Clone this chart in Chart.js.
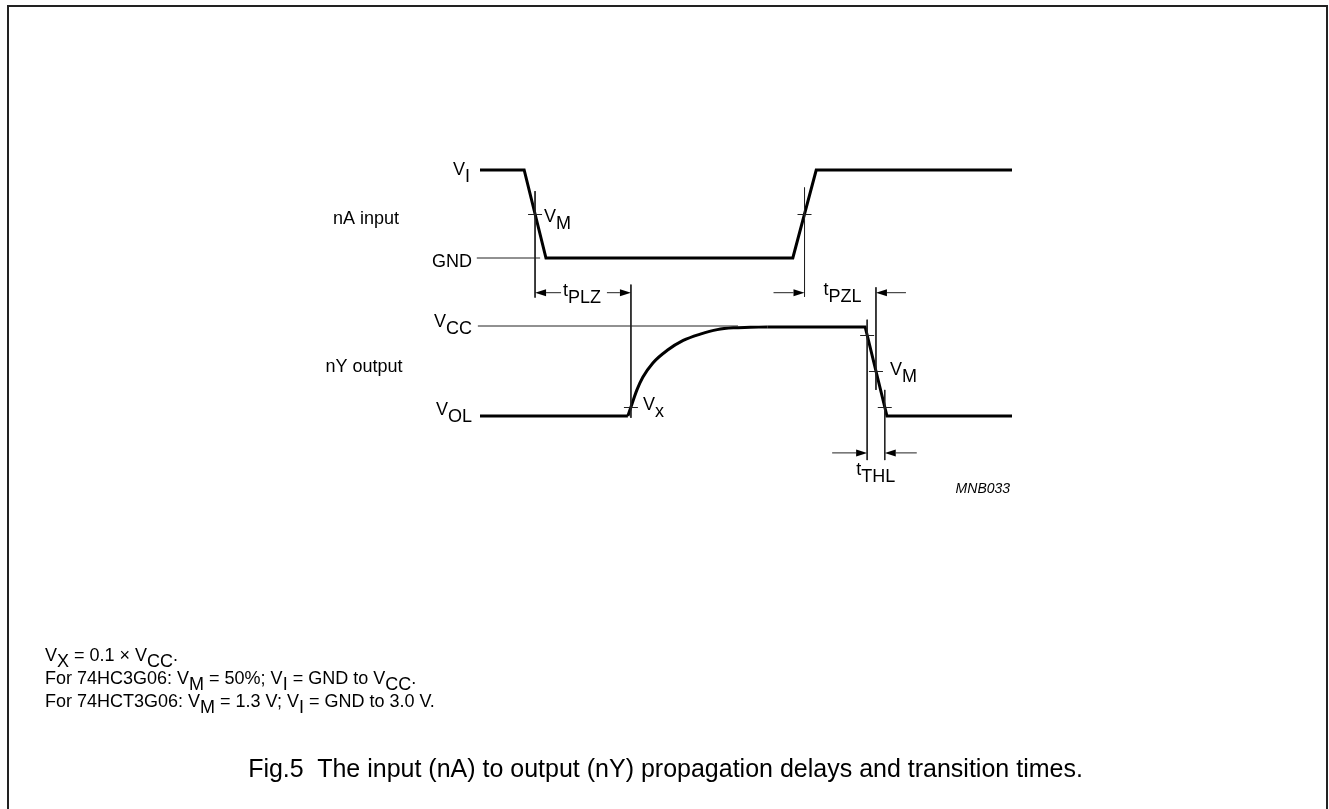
<!DOCTYPE html>
<html>
<head>
<meta charset="utf-8">
<script src="https://cdn.jsdelivr.net/npm/chart.js@4.4.1/dist/chart.umd.min.js"></script>
<style>
  html, body { margin: 0; padding: 0; background: #fff; }
  body { width: 1329px; height: 809px; position: relative; overflow: hidden;
         font-family: "Liberation Sans", Arial, Helvetica, sans-serif; color: #000; }
  #frame { position: absolute; left: 7px; top: 5px; width: 1321px; height: 900px;
           border: 2px solid #222; border-bottom: none; box-sizing: border-box; }
  #c { position: absolute; left: 0; top: 0; }
  .note { position: absolute; left: 45px; font-size: 18px; line-height: 18px; white-space: nowrap; }
  .note sub { font-size: 100%; vertical-align: -6px; line-height: 0; }
  .caption { position: absolute; left: 0; width: 1331px; top: 756px; text-align: center;
             font-size: 25px; line-height: 25px; white-space: pre; }
</style>
</head>
<body>
<div id="frame"></div>
<canvas id="c" width="1329" height="809"></canvas>
<div class="note" style="top:646px">V<sub>X</sub> = 0.1 × V<sub>CC</sub>.</div>
<div class="note" style="top:669px">For 74HC3G06: V<sub>M</sub> = 50%; V<sub>I</sub> = GND to V<sub>CC</sub>.</div>
<div class="note" style="top:692px">For 74HCT3G06: V<sub>M</sub> = 1.3 V; V<sub>I</sub> = GND to 3.0 V.</div>
<div class="caption">Fig.5  The input (nA) to output (nY) propagation delays and transition times.</div>
<script>
// time in arbitrary units, levels normalised: 0 = low (GND / VOL), 1 = high (VI / VCC)
const inputT = [0, 8.3, 12.4, 58.8, 63.2, 100];
const inputV = [1, 1, 0, 0, 1, 1];

const outLowT = [0, 27.8];
const outLowV = [0, 0];

const outRiseT = [27.8, 28.6, 29.5, 30.6, 32.5, 35.2, 38.2, 41.4, 44.6, 47.6, 50.8, 54.0];
const outRiseV = [0, 0.14, 0.29, 0.43, 0.59, 0.73, 0.84, 0.91, 0.96, 0.98, 0.985, 0.99];

const outFallT = [54.0, 72.4, 76.5, 100];
const outFallV = [0.99, 0.99, 0, 0];

// reference levels drawn as thin lines
const gndRefT = [-0.6, 11.3];
const vccRefT = [-0.4, 48.5];

const FONT = '18px "Liberation Sans", Arial, sans-serif';
const SUB_DROP = 7;

function pts(ts, vs) {
  return ts.map((t, i) => ({ x: t, y: vs[i] }));
}

// time where a waveform crosses a level, searching from tFrom
function crossing(ts, vs, level, tFrom) {
  for (let i = 0; i < ts.length - 1; i++) {
    if (ts[i + 1] < tFrom) continue;
    const a = vs[i] - level;
    const b = vs[i + 1] - level;
    if (a === 0) return ts[i];
    if (a * b < 0) return ts[i] + (ts[i + 1] - ts[i]) * a / (a - b);
  }
  return null;
}

const tInFall = crossing(inputT, inputV, 0.5, 0);
const tInRise = crossing(inputT, inputV, 0.5, 30);
const tVx = crossing(outRiseT, outRiseV, 0.1, 0);
const tOut90 = crossing(outFallT, outFallV, 0.9, 0);
const tOut50 = crossing(outFallT, outFallV, 0.5, 0);
const tOut10 = crossing(outFallT, outFallV, 0.1, 0);

function wave(data, yAxisID, extra) {
  return Object.assign({
    data, yAxisID, showLine: true, borderColor: '#000', borderWidth: 3,
    pointRadius: 0, borderJoinStyle: 'miter', borderCapStyle: 'butt', tension: 0
  }, extra || {});
}

function thin(data, yAxisID) {
  return {
    data, yAxisID, showLine: true, borderColor: '#222', borderWidth: 1,
    pointRadius: 0, borderCapStyle: 'butt', tension: 0
  };
}

function vline(t, a, b, yAxisID) {
  return thin([{ x: t, y: a }, { x: t, y: b }], yAxisID);
}

function drawLabel(ctx, main, sub, x, y, align) {
  ctx.font = FONT;
  ctx.textAlign = 'left';
  ctx.textBaseline = 'alphabetic';
  const wMain = ctx.measureText(main).width;
  const wSub = sub ? ctx.measureText(sub).width : 0;
  let left = x;
  if (align === 'right') left = x - wMain - wSub;
  if (align === 'center') left = x - (wMain + wSub) / 2;
  ctx.fillText(main, left, y);
  if (sub) ctx.fillText(sub, left + wMain, y + SUB_DROP);
}

function arrow(ctx, tailX, tipX, y) {
  const dir = Math.sign(tipX - tailX);
  const head = 11;
  ctx.beginPath();
  ctx.moveTo(tailX, y);
  ctx.lineTo(tipX - dir * head, y);
  ctx.stroke();
  ctx.beginPath();
  ctx.moveTo(tipX, y);
  ctx.lineTo(tipX - dir * head, y - 3.5);
  ctx.lineTo(tipX - dir * head, y + 3.5);
  ctx.closePath();
  ctx.fill();
}

const timingMarks = {
  id: 'timingMarks',
  afterDatasetsDraw(chart) {
    const { ctx, scales } = chart;
    const px = v => scales.x.getPixelForValue(v);
    const yi = v => scales.yIn.getPixelForValue(v);
    const yo = v => scales.yOut.getPixelForValue(v);
    ctx.save();
    ctx.strokeStyle = '#222';
    ctx.fillStyle = '#000';
    ctx.lineWidth = 1;

    // small crossing ticks
    const ticks = [
      [px(tInFall), yi(0.5)], [px(tInRise), yi(0.5)], [px(tVx), yo(0.1)],
      [px(tOut90), yo(0.9)], [px(tOut50), yo(0.5)], [px(tOut10), yo(0.1)]
    ];
    ticks.forEach(([x, y]) => {
      ctx.beginPath();
      ctx.moveTo(x - 7, Math.round(y) + 0.5);
      ctx.lineTo(x + 7, Math.round(y) + 0.5);
      ctx.stroke();
    });

    // arrows
    const yA = yo(1.37);
    arrow(ctx, px(tInFall) + 26, px(tInFall), yA);
    arrow(ctx, px(tVx) - 24, px(tVx), yA);
    arrow(ctx, px(tInRise) - 31, px(tInRise), yA);
    arrow(ctx, px(tOut50) + 30, px(tOut50), yA);
    const yT = yo(-0.41);
    arrow(ctx, px(tOut90) - 35, px(tOut90), yT);
    arrow(ctx, px(tOut10) + 32, px(tOut10), yT);

    // level labels
    const x0 = px(0);
    drawLabel(ctx, 'V', 'I', x0 - 10, yi(1) + 5, 'right');
    drawLabel(ctx, 'GND', '', x0 - 8, yi(0) + 9, 'right');
    drawLabel(ctx, 'V', 'CC', x0 - 8, yo(1) + 1, 'right');
    drawLabel(ctx, 'V', 'OL', x0 - 8, yo(0) - 1, 'right');
    drawLabel(ctx, 'nA input', '', x0 - 114, yi(0.5) + 10, 'center');
    drawLabel(ctx, 'nY output', '', x0 - 116, yo(0.5) + 1, 'center');

    // edge labels
    drawLabel(ctx, 'V', 'M', px(tInFall) + 9, yi(0.5) + 8, 'left');
    drawLabel(ctx, 'V', 'x', px(tVx) + 12, yo(0) - 6, 'left');
    drawLabel(ctx, 'V', 'M', px(tOut50) + 14, yo(0.5) + 4, 'left');
    drawLabel(ctx, 't', 'PLZ', px(tInFall) + 28, yA + 3, 'left');
    drawLabel(ctx, 't', 'PZL', px(tInRise) + 19, yA + 2, 'left');
    drawLabel(ctx, 't', 'THL', px(tOut90) - 11, yT + 22, 'left');

    ctx.font = 'italic 14px "Liberation Sans", Arial, sans-serif';
    ctx.fillText('MNB033', px(89.4), yo(-0.86));
    ctx.restore();
  }
};

// scale ranges chosen so the axes span the whole canvas (axes hidden)
const T_PX = 5.32, T0_PX = 480;
const IN_PX = 88, IN0_PX = 258;
const OUT_PX = 90, OUT0_PX = 416;
const W = 1329, H = 809;

new Chart(document.getElementById('c'), {
  type: 'scatter',
  data: {
    datasets: [
      thin(pts(gndRefT, [0, 0]), 'yIn'),
      thin(pts(vccRefT, [1, 1]), 'yOut'),
      vline(tInFall, 0.76, -0.45, 'yIn'),
      vline(tInRise, 0.80, -0.44, 'yIn'),
      vline(tVx, 1.46, -0.02, 'yOut'),
      vline(tOut50, 1.43, 0.29, 'yOut'),
      vline(tOut90, 1.07, -0.49, 'yOut'),
      vline(tOut10, 0.29, -0.49, 'yOut'),
      wave(pts(inputT, inputV), 'yIn'),
      wave(pts(outLowT, outLowV), 'yOut'),
      wave(pts(outRiseT, outRiseV), 'yOut', { cubicInterpolationMode: 'monotone' }),
      wave(pts(outFallT, outFallV), 'yOut')
    ]
  },
  options: {
    responsive: false,
    animation: false,
    layout: { padding: 0 },
    plugins: { legend: { display: false }, tooltip: { enabled: false }, title: { display: false } },
    scales: {
      x: { type: 'linear', display: false, min: -T0_PX / T_PX, max: (W - T0_PX) / T_PX },
      yIn: { type: 'linear', display: false, min: -(H - IN0_PX) / IN_PX, max: IN0_PX / IN_PX },
      yOut: { type: 'linear', display: false, min: -(H - OUT0_PX) / OUT_PX, max: OUT0_PX / OUT_PX }
    }
  },
  plugins: [timingMarks]
});
</script>
</body>
</html>
